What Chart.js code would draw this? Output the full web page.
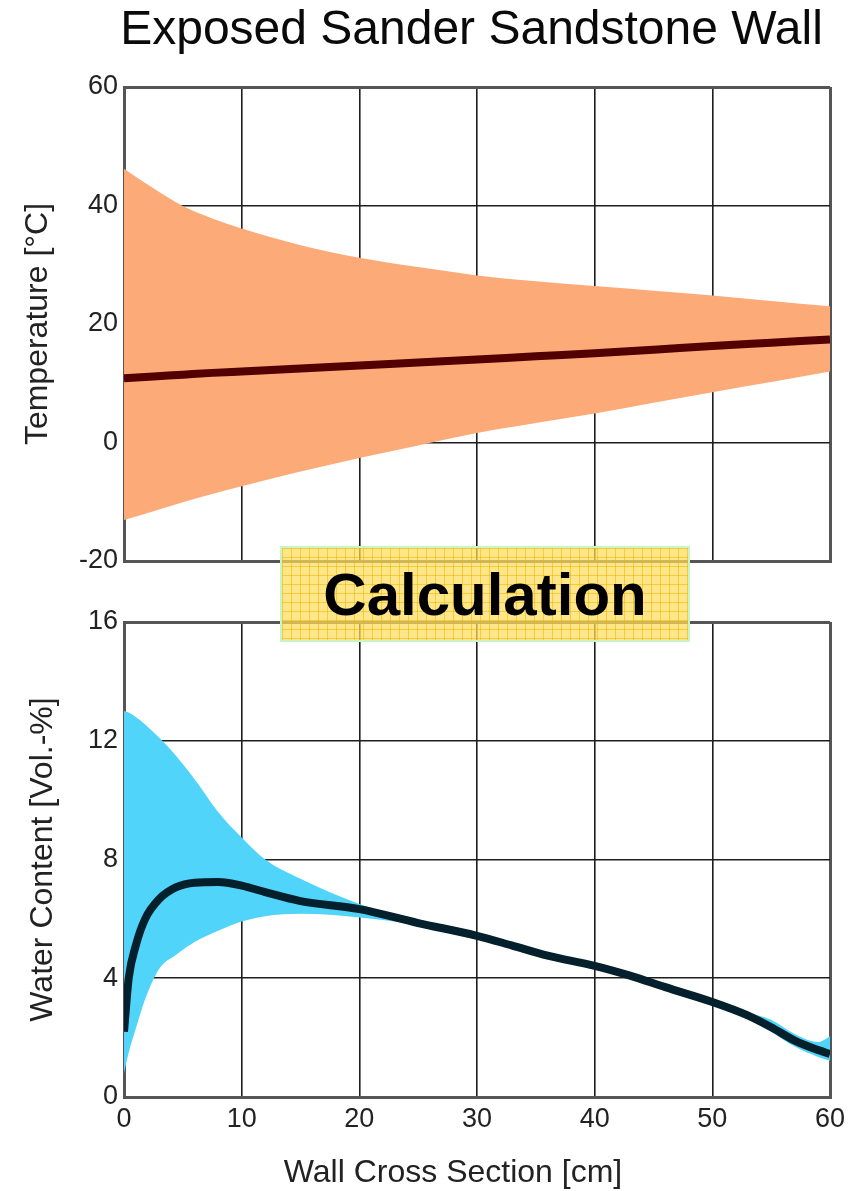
<!DOCTYPE html>
<html><head><meta charset="utf-8">
<script src="https://cdn.jsdelivr.net/npm/chart.js@4.4.1/dist/chart.umd.min.js"></script>
<style>
html,body{margin:0;padding:0;background:#fff;}
#wrap{position:relative;width:861px;height:1191px;overflow:hidden;background:#fff;font-family:"Liberation Sans",Arial,Helvetica,sans-serif;}
#topC{position:absolute;left:0;top:0;}
#botC{position:absolute;left:0;top:590px;}
#title{position:absolute;left:71px;width:801px;top:0px;text-align:center;font-size:48px;line-height:56px;color:#0a0a0a;white-space:nowrap;}
#xtitle{position:absolute;left:153px;width:600px;top:1153px;text-align:center;font-size:32px;line-height:36px;color:#222;white-space:nowrap;}
#calc{position:absolute;left:280px;top:546px;width:410px;height:96px;box-sizing:border-box;border:2px solid #c8f5c0;
 background-color:rgba(255,220,90,0.72);
 background-image:linear-gradient(to right, rgba(240,180,0,0.55) 1px, transparent 1px),linear-gradient(to bottom, rgba(240,180,0,0.55) 1px, transparent 1px);
 background-size:9px 9px;display:flex;align-items:center;justify-content:center;font-weight:bold;font-size:60px;color:#000;}
</style></head>
<body>
<div id="wrap">
  <canvas id="topC" width="861" height="600"></canvas>
  <canvas id="botC" width="861" height="601"></canvas>
  <div id="title">Exposed Sander Sandstone Wall</div>
  <div id="xtitle">Wall Cross Section [cm]</div>
  <div id="calc">Calculation</div>
</div>
<script>
// ---- data ----
const tempX    = [0, 2.5, 5, 7.5, 10, 15, 20, 25, 30, 35, 40, 45, 50, 55, 60];
const tempMax  = [46.2, 42.9, 39.9, 37.8, 36.1, 33.3, 31.2, 29.6, 28.2, 27.2, 26.4, 25.6, 24.8, 23.9, 23.0];
const tempMin  = [-13.1, -11.6, -10.1, -8.7, -7.4, -4.9, -2.6, -0.5, 1.6, 3.3, 4.9, 6.7, 8.5, 10.2, 12.0];
const tempMean = [10.85, 11.15, 11.45, 11.75, 12.0, 12.5, 13.0, 13.5, 14.0, 14.55, 15.05, 15.65, 16.3, 16.85, 17.4];

const waterX    = [0, 0.4, 1, 1.8, 3, 4.4, 6, 8, 10, 12, 15, 20, 25, 30, 33, 36, 40, 43, 46, 50, 53, 55, 57, 59, 60];
const waterMean = [2.2, 4.0, 5.1, 6.0, 6.67, 7.06, 7.22, 7.24, 7.12, 6.9, 6.6, 6.33, 5.86, 5.43, 5.1, 4.76, 4.42, 4.09, 3.7, 3.2, 2.75, 2.35, 1.9, 1.58, 1.45];
const waterMax  = [13.0, 12.95, 12.8, 12.55, 12.1, 11.5, 10.7, 9.6, 8.74, 8.0, 7.35, 6.5, 5.9, 5.47, 5.14, 4.8, 4.46, 4.13, 3.74, 3.24, 2.85, 2.6, 2.12, 1.85, 2.05];
const waterMin  = [0.8, 1.5, 2.3, 3.3, 4.32, 4.78, 5.22, 5.6, 5.91, 6.09, 6.17, 6.05, 5.8, 5.39, 5.06, 4.72, 4.38, 4.05, 3.66, 3.16, 2.7, 2.2, 1.7, 1.35, 1.22];

const xTicks     = [0, 10, 20, 30, 40, 50, 60];
const tempTicks  = [-20, 0, 20, 40, 60];
const waterTicks = [0, 4, 8, 12, 16];

// ---- helpers ----
const FAMILY = '"Liberation Sans", Arial, Helvetica, sans-serif';
const pts = (xs, ys) => xs.map((x, i) => ({x: x, y: ys[i]}));
function gridOpts(lo, hi) {
  const edge = c => c.tick && (c.tick.value === lo || c.tick.value === hi);
  return {
    drawTicks: false,
    color: c => edge(c) ? '#555' : '#1e1e1e',
    lineWidth: c => edge(c) ? 3 : 1.6
  };
}
function setTicks(arr) { return s => { s.ticks = arr.map(v => ({value: v})); }; }
const border = {display: true, width: 3, color: '#555'};
const tickFont = {size: 27, family: FAMILY};

function bandSets(xs, mean, hi, lo, meanColor, bandColor) {
  return [
    {label: 'Mean', data: pts(xs, mean), borderColor: meanColor, borderWidth: 8, pointRadius: 0,
     fill: false, cubicInterpolationMode: 'monotone', order: 0},
    {label: 'Max', data: pts(xs, hi), borderColor: 'rgba(0,0,0,0)', borderWidth: 0, backgroundColor: bandColor,
     pointRadius: 0, fill: '+1', cubicInterpolationMode: 'monotone', order: 1},
    {label: 'Min', data: pts(xs, lo), borderColor: 'rgba(0,0,0,0)', borderWidth: 0,
     pointRadius: 0, fill: false, cubicInterpolationMode: 'monotone', order: 2}
  ];
}

// ---- top chart: temperature ----
new Chart(document.getElementById('topC'), {
  type: 'line',
  data: {datasets: bandSets(tempX, tempMean, tempMax, tempMin, '#520000', '#FCAA78')},
  options: {
    responsive: false, animation: false, devicePixelRatio: 1,
    layout: {padding: {top: 87, right: 31, bottom: 39, left: 0}},
    plugins: {legend: {display: false}, tooltip: {enabled: false}, title: {display: false}},
    scales: {
      x: {type: 'linear', min: 0, max: 60, z: 1,
          afterBuildTicks: setTicks(xTicks),
          ticks: {display: false},
          grid: gridOpts(0, 60), border: border,
          afterFit: s => { s.height = 0; }},
      y: {type: 'linear', min: -20, max: 60, z: 1,
          afterBuildTicks: setTicks(tempTicks),
          ticks: {font: tickFont, color: '#222', padding: 6},
          grid: gridOpts(-20, 60), border: border,
          title: {display: true, text: 'Temperature [°C]', font: {size: 32, family: FAMILY}, color: '#222', padding: {top: 19, bottom: 0}},
          afterFit: s => { s.width = 124; }}
    }
  }
});

// ---- bottom chart: water content ----
new Chart(document.getElementById('botC'), {
  type: 'line',
  data: {datasets: bandSets(waterX, waterMean, waterMax, waterMin, '#04202c', '#50D4FA')},
  options: {
    responsive: false, animation: false, devicePixelRatio: 1,
    layout: {padding: {top: 32, right: 31, bottom: 0, left: 0}},
    plugins: {legend: {display: false}, tooltip: {enabled: false}, title: {display: false}},
    scales: {
      x: {type: 'linear', min: 0, max: 60, z: 1,
          afterBuildTicks: setTicks(xTicks),
          ticks: {font: tickFont, color: '#222', padding: 6, maxRotation: 0},
          grid: gridOpts(0, 60), border: border,
          afterFit: s => { s.height = 94; }},
      y: {type: 'linear', min: 0, max: 16, z: 1,
          afterBuildTicks: setTicks(waterTicks),
          ticks: {font: tickFont, color: '#222', padding: 6},
          grid: gridOpts(0, 16), border: border,
          title: {display: true, text: 'Water Content [Vol.-%]', font: {size: 32, family: FAMILY}, color: '#222', padding: {top: 24, bottom: 0}},
          afterFit: s => { s.width = 124; }}
    }
  }
});
</script>
</body></html>
